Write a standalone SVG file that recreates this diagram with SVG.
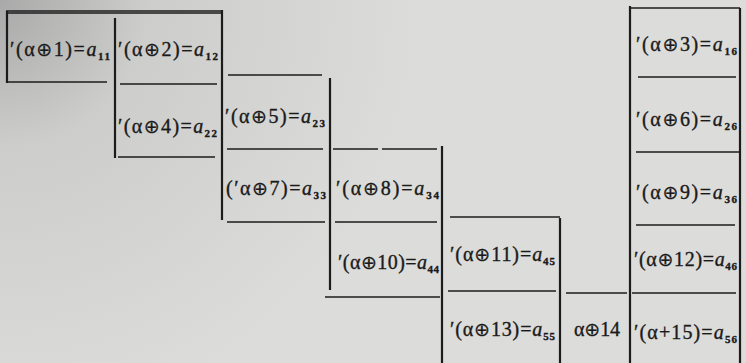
<svg xmlns="http://www.w3.org/2000/svg" width="746" height="363" viewBox="0 0 746 363">
<defs>
<radialGradient id="paper" cx="0" cy="0" r="420" gradientUnits="userSpaceOnUse">
<stop offset="0" stop-color="#a9a9a9"/>
<stop offset="0.35" stop-color="#cdcdcb"/>
<stop offset="1" stop-color="#dcdcda"/>
</radialGradient>
<style>
.t{font-family:"Liberation Serif","DejaVu Serif",serif;font-size:20px;fill:#1a1a1a;stroke:#1a1a1a;stroke-width:0.35}
.s{font-size:11px;font-weight:bold}
.o{font-family:"DejaVu Sans",sans-serif;font-size:19px;stroke-width:0.2}
.a{font-style:italic}
.ln{stroke:#1c1c1c;stroke-width:1.6;fill:none}
.v{stroke:#1c1c1c;stroke-width:2.2;fill:none}
</style>
</defs>
<rect width="746" height="363" fill="url(#paper)"/>
<g id="lines">
<path class="ln" d="M6 11H222M6 13H222M8 82H107M120 84H217M118 157H215M228 75H322M227 149H323M227 222H325M333 149H378M382 149H437M335 222H437M325 297H440M450 217H560M448 291H556M566 293H627M630 8H740M638 77H736M636 152H740M636 225H735M632 293H736"/>
<path class="v" d="M7 11V83M115 18V158M222 10V220M330 78V290M442 146V363M560 218V363M630 6V363M740 8V363"/>
</g>
<g id="c1"><text class="t" x="10" y="56" textLength="100">′(α<tspan class="o">⊕</tspan>1)=<tspan class="a">a</tspan><tspan class="s" dy="4">11</tspan></text></g>
<g id="c2"><text class="t" x="118" y="56" textLength="100">′(α<tspan class="o">⊕</tspan>2)=<tspan class="a">a</tspan><tspan class="s" dy="4">12</tspan></text></g>
<g id="c4"><text class="t" x="118" y="133" textLength="99">′(α<tspan class="o">⊕</tspan>4)=<tspan class="a">a</tspan><tspan class="s" dy="4">22</tspan></text></g>
<g id="c5"><text class="t" x="225" y="123" textLength="100">′(α<tspan class="o">⊕</tspan>5)=<tspan class="a">a</tspan><tspan class="s" dy="4">23</tspan></text></g>
<g id="c7"><text class="t" x="226" y="195" textLength="100">(′α<tspan class="o">⊕</tspan>7)=<tspan class="a">a</tspan><tspan class="s" dy="4">33</tspan></text></g>
<g id="c8"><text class="t" x="336" y="195" textLength="103">′(α<tspan class="o">⊕</tspan>8)=<tspan class="a">a</tspan><tspan class="s" dy="4">34</tspan></text></g>
<g id="c10"><text class="t" x="338" y="269" textLength="101">′(α<tspan class="o">⊕</tspan>10)=<tspan class="a">a</tspan><tspan class="s" dy="4">44</tspan></text></g>
<g id="c11"><text class="t" x="450" y="261" textLength="105">′(α<tspan class="o">⊕</tspan>11)=<tspan class="a">a</tspan><tspan class="s" dy="4">45</tspan></text></g>
<g id="c13"><text class="t" x="450" y="336" textLength="105">′(α<tspan class="o">⊕</tspan>13)=<tspan class="a">a</tspan><tspan class="s" dy="4">55</tspan></text></g>
<g id="c14"><text class="t" x="574" y="336" textLength="46">α<tspan class="o">⊕</tspan>14</text></g>
<g id="c3"><text class="t" x="636" y="51" textLength="101">′(α<tspan class="o">⊕</tspan>3)=<tspan class="a">a</tspan><tspan class="s" dy="4">16</tspan></text></g>
<g id="c6"><text class="t" x="636" y="126" textLength="101">′(α<tspan class="o">⊕</tspan>6)=<tspan class="a">a</tspan><tspan class="s" dy="4">26</tspan></text></g>
<g id="c9"><text class="t" x="636" y="199" textLength="101">′(α<tspan class="o">⊕</tspan>9)=<tspan class="a">a</tspan><tspan class="s" dy="4">36</tspan></text></g>
<g id="c12"><text class="t" x="634" y="266" textLength="103">′(α<tspan class="o">⊕</tspan>12)=<tspan class="a">a</tspan><tspan class="s" dy="4">46</tspan></text></g>
<g id="c15"><text class="t" x="634" y="339" textLength="103">′(α+15)=<tspan class="a">a</tspan><tspan class="s" dy="4">56</tspan></text></g>
</svg>
